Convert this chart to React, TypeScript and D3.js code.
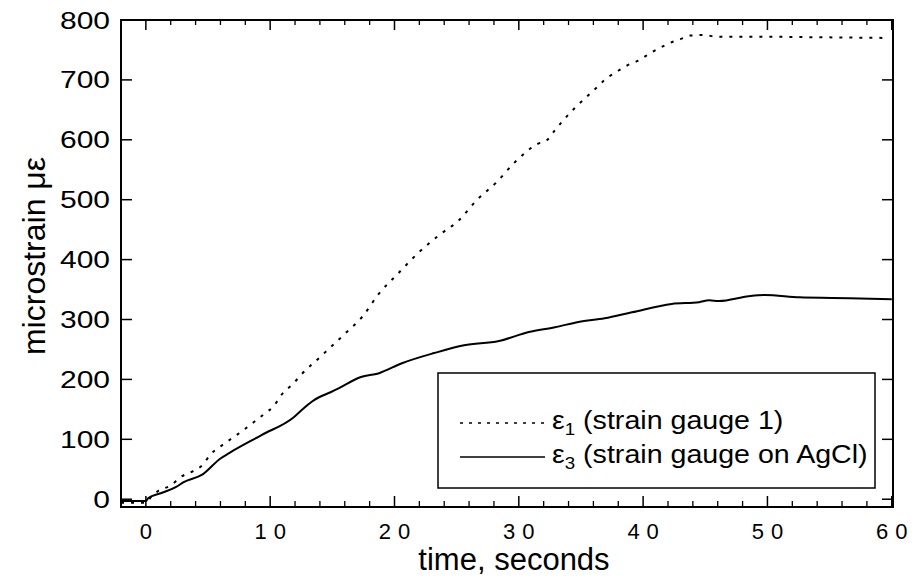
import React from 'react';
import * as d3 from 'd3';

// strain gauge 1 (dotted)
const timeGauge1 = [-2, 0, 0.5, 1, 2, 2.8, 3.8, 4.6, 5.2, 6, 6.8, 7.7, 8.7, 9.5, 10.3, 10.9, 11.9, 12.5, 14.1, 15.9, 17.5, 18.7, 20.3, 21.9, 23.6, 25.2, 26.6, 28.2, 29.7, 31.5, 32.3, 32.9, 34.5, 36.1, 36.9, 37.9, 38.7, 39.6, 40.6, 41.4, 42.2, 43, 43.8, 44.8, 46, 50, 55, 59.8];
const strainGauge1 = [-6, -6, 6, 14, 23, 37, 47, 58, 75, 88, 100, 113, 129, 142, 156, 174, 194, 208, 239, 274, 307, 342, 377, 411, 441, 466, 499, 529, 563, 593, 600, 616, 653, 684, 700, 714, 724, 732, 745, 754, 762, 768, 774, 775, 772, 772, 771, 770];

// strain gauge on AgCl (solid)
const timeAgCl = [-2, 0, 0.2, 1.2, 2.4, 3, 4.6, 6, 6.7, 9.3, 11.9, 12.7, 13.5, 14.9, 15.5, 17.3, 18.7, 20.6, 23.2, 25.6, 28.4, 30.8, 32.9, 34.8, 36.9, 39.1, 42.3, 44.5, 45.3, 46.1, 48.5, 49.8, 52.6, 55.2, 60];
const strainAgCl = [-3, -3, 2, 10, 20, 28, 42, 68, 77, 107, 137, 152, 165, 179, 185, 204, 210, 227, 244, 257, 264, 279, 287, 296, 302, 312, 326, 329, 332, 331, 339, 341, 337, 336, 334];

const xTickLabels = [0, 10, 20, 30, 40, 50, 60];
const yTickLabels = [0, 100, 200, 300, 400, 500, 600, 700, 800];

const legendItems = [
  { sym: 'ε', sub: '1', label: ' (strain gauge 1)', dash: '3,6' },
  { sym: 'ε', sub: '3', label: ' (strain gauge on AgCl)', dash: null },
];

const font = '"Liberation Sans", Arial, Helvetica, sans-serif';

export default function App() {
  const width = 920, height = 580;
  const left = 121, right = 893, top = 20, bottom = 507;

  const x = d3.scaleLinear().domain([-2, 60.1]).range([left, right]);
  const y = d3.scaleLinear().domain([-13, 800]).range([bottom, top]);

  const lineGen = d3.line<[number, number]>()
    .x(d => x(d[0]))
    .y(d => y(d[1]))
    .curve(d3.curveMonotoneX);

  const gauge1 = timeGauge1.map((t, i) => [t, strainGauge1[i]] as [number, number]);
  const agcl = timeAgCl.map((t, i) => [t, strainAgCl[i]] as [number, number]);

  const minorX = d3.range(0, 61, 2).filter(d => d % 10 !== 0);

  return (
    <svg width={width} height={height} style={{ position: 'absolute', left: 0, top: 0, background: '#fff' }}>
      <rect x={0} y={0} width={width} height={height} fill="#fff" />
      {/* frame */}
      <rect x={left} y={top} width={right - left} height={bottom - top} fill="none" stroke="#000" strokeWidth={2} />

      {/* x ticks */}
      {xTickLabels.map(d => (
        <g key={'xt' + d}>
          <line x1={x(d)} x2={x(d)} y1={bottom} y2={bottom - 11} stroke="#000" strokeWidth={1.5} />
          <line x1={x(d)} x2={x(d)} y1={top} y2={top + 10} stroke="#000" strokeWidth={1.5} />
          <text x={x(d) + 3.5} y={539} textAnchor="middle" fontFamily={font} fontSize={22} letterSpacing={7}>{d}</text>
        </g>
      ))}
      {minorX.map(d => (
        <g key={'xm' + d}>
          <line x1={x(d)} x2={x(d)} y1={bottom} y2={bottom - 6} stroke="#000" strokeWidth={1.3} />
          <line x1={x(d)} x2={x(d)} y1={top} y2={top + 5} stroke="#000" strokeWidth={1.3} />
        </g>
      ))}

      {/* y ticks */}
      {yTickLabels.map(d => (
        <g key={'yt' + d}>
          <line x1={left} x2={left + 11} y1={y(d)} y2={y(d)} stroke="#000" strokeWidth={1.5} />
          <line x1={right} x2={right - 11} y1={y(d)} y2={y(d)} stroke="#000" strokeWidth={1.5} />
          <text transform={`translate(110,${y(d) + 8.5}) scale(1.25,1)`} textAnchor="end" fontFamily={font} fontSize={24}>{d}</text>
        </g>
      ))}

      {/* series */}
      <path d={lineGen(gauge1) || ''} fill="none" stroke="#000" strokeWidth={2} strokeDasharray="3,7" />
      <path d={lineGen(agcl) || ''} fill="none" stroke="#000" strokeWidth={2} />

      {/* axis titles */}
      <text x={514} y={570} textAnchor="middle" fontFamily={font} fontSize={31}>time, seconds</text>
      <text transform="translate(45,256) rotate(-90)" textAnchor="middle" fontFamily={font} fontSize={32}>microstrain με</text>

      {/* legend */}
      <rect x={438} y={373} width={437} height={115} fill="#fff" stroke="#000" strokeWidth={1.5} />
      {legendItems.map((item, i) => {
        const ly = 423 + i * 34;
        return (
          <g key={'lg' + i}>
            <line x1={460} x2={545} y1={ly} y2={ly} stroke="#000" strokeWidth={item.dash ? 1.3 : 1.6}
              strokeDasharray={item.dash || undefined} />
            <text transform={`translate(552,${ly + 6}) scale(1.1,1)`} fontFamily={font} fontSize={26}>
              <tspan>{item.sym}</tspan>
              <tspan fontSize={17} dy={6}>{item.sub}</tspan>
              <tspan dy={-6}>{item.label}</tspan>
            </text>
          </g>
        );
      })}
    </svg>
  );
}
